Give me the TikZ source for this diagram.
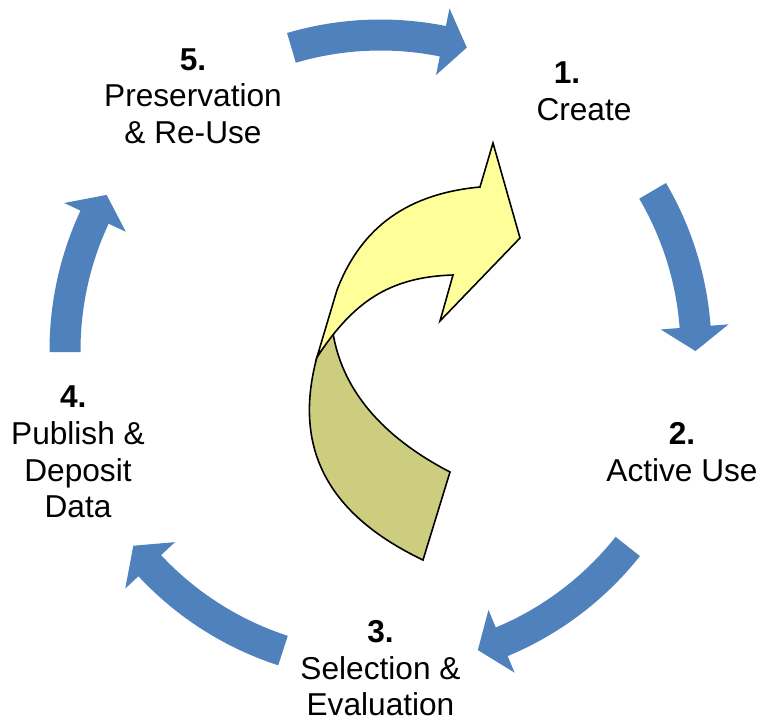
\documentclass[tikz,border=0pt]{standalone}
\usepackage{fontspec}
\setmainfont{Liberation Sans}
\usepackage{tikz}

\definecolor{cycleblue}{HTML}{4F81BD}
\definecolor{frontyellow}{HTML}{FFFF99}
\definecolor{backolive}{RGB}{205,205,128}

\begin{document}
\begin{tikzpicture}[every node/.style={font=\fontsize{18}{20.8}\selectfont, align=center, inner sep=0pt}]
        \useasboundingbox (-7.61,-7.41) rectangle (7.61,7.01);

        % --- Draw blue cycle arrows ---
        \fill[cycleblue] (106.4:6.62) arc[start angle=106.4, end angle=78.6, radius=6.62] -- (78.6:6.98) -- (74.1:6.30) -- (78.6:5.62) -- (78.6:6.00) arc[start angle=78.6, end angle=106.4, radius=6.00] -- cycle;
        \fill[cycleblue] (30.4:6.62) arc[start angle=30.4, end angle=4.3, radius=6.62] -- (4.3:6.98) -- (-0.1:6.30) -- (4.3:5.62) -- (4.3:6.00) arc[start angle=4.3, end angle=30.4, radius=6.00] -- cycle;
        \fill[cycleblue] (-38.4:6.62) arc[start angle=-38.4, end angle=-67.4, radius=6.62] -- (-67.4:6.98) -- (-72:6.30) -- (-67.4:5.62) -- (-67.4:6.00) arc[start angle=-67.4, end angle=-38.4, radius=6.00] -- cycle;
        \fill[cycleblue] (-108:6.62) arc[start angle=-108, end angle=-137, radius=6.62] -- (-137:6.98) -- (-141.7:6.30) -- (-137:5.62) -- (-137:6.00) arc[start angle=-137, end angle=-108, radius=6.00] -- cycle;
        \fill[cycleblue] (180.3:6.62) arc[start angle=180.3, end angle=155, radius=6.62] -- (155:6.98) -- (150.4:6.30) -- (155:5.62) -- (155:6.00) arc[start angle=155, end angle=180.3, radius=6.00] -- cycle;
        % ---

        % --- Draw stage labels ---
        \node (create) at (4.07,5.19) {\textbf{1.}\hspace*{1.07em}\\Create};
        \node (activeuse) at (6.03,-2.03) {\textbf{2.}\\Active Use};
        \node (selection) at (0,-6.36) {\textbf{3.}\\Selection \&\\Evaluation};
        \node (publish) at (-6.05,-2.03) {\textbf{4.}\hspace*{0.3em}\\Publish \&\\Deposit\\Data};
        \node (preservation) at (-3.75,5.09) {\textbf{5.}\\Preservation\\\& Re-Use};
        % ---

        % --- Draw twisted centre arrow ---
        \coordinate (twist) at (-1.27,-0.13);
        \filldraw[fill=backolive, line width=0.9pt] (twist) .. controls (-1.79,-2.05) and (-0.95,-3.33) .. (0.85,-4.19) -- (1.39,-2.43) .. controls (0.23,-1.83) and (-0.74,-0.94) .. (-0.95,0.35) -- cycle;
        \filldraw[fill=frontyellow, line width=0.9pt] (twist) -- (-0.87,1.21) .. controls (-0.37,2.51) and (0.59,3.14) .. (1.99,3.27) -- (2.25,4.15) -- (2.79,2.25) -- (1.19,0.59) -- (1.45,1.51) .. controls (0.15,1.47) and (-0.555,0.949) .. (twist) -- cycle;
        % ---
\end{tikzpicture}
\end{document}
